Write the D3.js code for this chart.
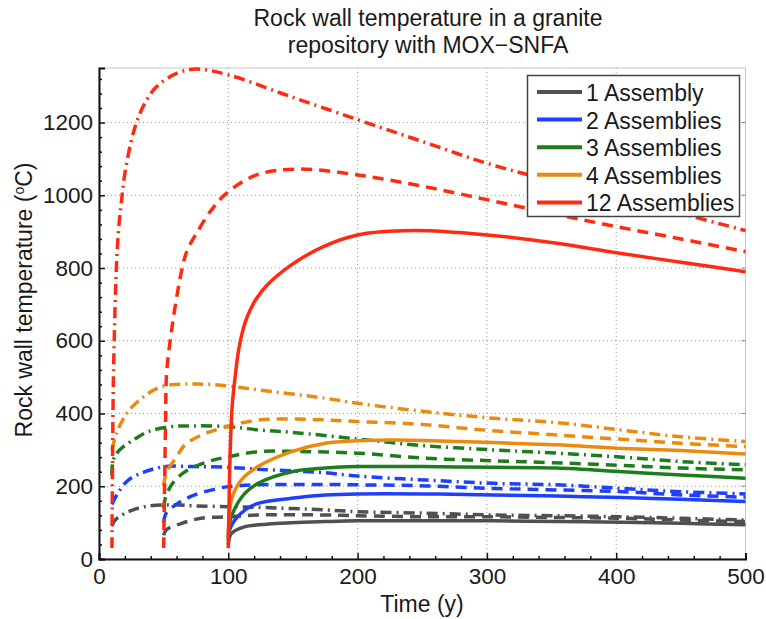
<!DOCTYPE html>
<meta charset="utf-8">
<script src="https://d3js.org/d3.v7.min.js"></script>
<style>
  body { margin: 0; background: #fff; }
  text { font-family: "Liberation Sans", Arial, sans-serif; fill: #1a1a1a; }
</style>
<div id="chart"></div>
<script>

var width = 766, height = 619;

// dados: [tempo (y), temperatura (oC)]
var gray_solid = [[100,40],[101,60],[102.6,71],[113,89],[123,94],[149,100],[175,103],[200,105],[253,105],[305,105],[354,103],[405,101],[450,98],[500,94]];
var gray_dash = [[50,65],[52,80],[64,98],[79,112],[100,116],[123,121],[175,121],[200,119],[253,116],[305,116],[354,114],[405,112],[450,107],[500,103]];
var gray_dashdot = [[10,90],[12.4,107],[22.7,130],[35.6,144],[56,149],[74,146],[100,144],[123,142],[175,135],[200,130],[253,126],[305,121],[354,119],[405,116],[450,112],[500,107]];

var blue_solid = [[100,50],[101,80],[105,107],[113,135],[123,153],[149,167],[175,176],[200,179],[253,179],[305,176],[354,173],[405,169],[450,164],[500,158]];
var blue_dash = [[50,100],[52,126],[61,153],[74,176],[92,194],[100,199],[123,204],[162,205],[200,204],[253,201],[305,194],[354,190],[405,185],[450,176],[500,170]];
var blue_dashdot = [[10,150],[13.7,176],[22.7,217],[35.6,240],[51,254],[74,254],[100,252],[123,247],[175,237],[200,228],[253,217],[305,208],[354,204],[405,194],[450,185],[500,179]];

var green_solid = [[100,60],[101,100],[105,139],[113,181],[123,208],[149,240],[175,250],[200,254],[250,254],[305,252],[354,250],[405,240],[450,231],[500,222]];
var green_dash = [[50,140],[52,176],[59,217],[69,245],[84.5,268],[100,281],[123,295],[162,295],[200,291],[253,277],[305,270],[350,265],[400,258],[450,250],[500,245]];
var green_dashdot = [[10,230],[11,272],[16,300],[26.5,327],[38,350],[56,364],[74,366],[100,364],[123,355],[150,348],[200,330],[250,312],[305,300],[354,291],[405,280],[450,268],[500,259]];

var orange_solid = [[100,60],[101,130],[103,170],[110,217],[123,254],[149,295],[175,318],[200,325],[228,327],[279,323],[305,320],[354,314],[405,304],[450,298],[500,289]];
var orange_dash = [[50,200],[52,236],[60,281],[66.5,314],[79.4,341],[95,360],[123,382],[162,384],[200,378],[250,370],[300,354],[350,342],[400,330],[450,318],[500,309]];
var orange_dashdot = [[10,300],[13.7,347],[21.4,400],[33,442],[48.5,474],[74,481],[100,476],[123,465],[175,442],[200,428],[253,405],[305,387],[354,375],[403,355],[450,336],[500,323]];

var red_solid = [[100,30],[101.5,300],[103,420],[105,492],[108,575],[111,625],[114,660],[118,692],[121,712],[129.7,752],[147.7,806],[173.5,859],[200,891],[243,903],[300,891],[350,870],[400,842],[450,816],[500,790]];
var red_dash = [[50,30],[51.5,380],[52.3,511],[57,650],[62.6,770],[66,825],[69,855],[75.5,896],[86,955],[98.7,1006],[122,1056],[153,1072],[200,1056],[250,1025],[300,988],[350,950],[400,914],[450,880],[500,845]];
var red_dashdot = [[10,30],[10.8,400],[11.5,560],[13.7,823],[15.5,920],[17.5,988],[20,1060],[25,1150],[29,1200],[35,1250],[44.6,1299],[60,1335],[75,1347],[100,1331],[147.7,1272],[200,1208],[250,1148],[300,1088],[350,1040],[400,996],[450,950],[500,903]];

var legenda = ["1 Assembly", "2 Assemblies", "3 Assemblies", "4 Assemblies", "12 Assemblies"];
var cores = ["#505050", "#1f3fff", "#1d7d1d", "#ea8a0e", "#ff2a10"];

var x_ticks = [0, 100, 200, 300, 400, 500];
var y_ticks = [0, 200, 400, 600, 800, 1000, 1200];

// estilos das linhas
var tracos = { solid: null, dash: "11,7", dashdot: "11,5,2,5" };

var series = [
  {nome: "gray",   cor: cores[0], solid: gray_solid,   dash: gray_dash,   dashdot: gray_dashdot},
  {nome: "blue",   cor: cores[1], solid: blue_solid,   dash: blue_dash,   dashdot: blue_dashdot},
  {nome: "green",  cor: cores[2], solid: green_solid,  dash: green_dash,  dashdot: green_dashdot},
  {nome: "orange", cor: cores[3], solid: orange_solid, dash: orange_dash, dashdot: orange_dashdot},
  {nome: "red",    cor: cores[4], solid: red_solid,    dash: red_dash,    dashdot: red_dashdot}
];

var m = {left: 99, right: 20.5, top: 68, bottom: 60};
var pw = width - m.left - m.right, ph = height - m.top - m.bottom;

var svg = d3.select("#chart")
  .append("svg")
  .attr("width", width)
  .attr("height", height);

var x = d3.scaleLinear().domain([0, 500]).range([m.left, m.left + pw]);
var y = d3.scaleLinear().domain([0, 1350]).range([m.top + ph, m.top]);

// grelha pontilhada
var grid = svg.append("g");
grid.selectAll(".gx")
  .data(x_ticks.slice(1))
  .join("line")
  .attr("class", "gx")
  .attr("x1", d => x(d)).attr("x2", d => x(d))
  .attr("y1", m.top).attr("y2", m.top + ph)
  .attr("stroke", "#9a9a9a").attr("stroke-width", 1).attr("stroke-dasharray", "1,3");
grid.selectAll(".gy")
  .data(y_ticks.slice(1))
  .join("line")
  .attr("class", "gy")
  .attr("x1", m.left).attr("x2", m.left + pw)
  .attr("y1", d => y(d)).attr("y2", d => y(d))
  .attr("stroke", "#9a9a9a").attr("stroke-width", 1).attr("stroke-dasharray", "1,3");

// moldura clara
svg.append("rect")
  .attr("x", m.left).attr("y", m.top)
  .attr("width", pw).attr("height", ph)
  .attr("fill", "none").attr("stroke", "#c8c8c8").attr("stroke-width", 1);

// curvas
var linha = d3.line()
  .x(d => x(d[0]))
  .y(d => y(d[1]))
  .curve(d3.curveCatmullRom.alpha(0.5));

var curvas = svg.append("g");
series.forEach(function(s) {
  ["solid", "dash", "dashdot"].forEach(function(k) {
    curvas.append("path")
      .attr("d", linha(s[k]))
      .attr("fill", "none")
      .attr("stroke", s.cor)
      .attr("stroke-width", 3.5)
      .attr("stroke-dasharray", tracos[k]);
  });
});

// eixos
var xAxis = d3.axisBottom(x).tickValues(d3.range(0, 501, 20)).tickSize(-6)
  .tickFormat(d => x_ticks.includes(d) ? d : "");
var yAxis = d3.axisLeft(y).tickValues(d3.range(0, 1341, 40)).tickSize(-6)
  .tickFormat(d => y_ticks.includes(d) ? d : "");

var gx = svg.append("g")
  .attr("transform", "translate(0," + (m.top + ph) + ")")
  .call(xAxis);
var gy = svg.append("g")
  .attr("transform", "translate(" + m.left + ",0)")
  .call(yAxis);

[gx, gy].forEach(function(g) {
  g.select(".domain").attr("stroke", "#111").attr("stroke-width", 2);
  g.selectAll(".tick line").attr("stroke", "#111").attr("stroke-width", 1.5);
  g.selectAll(".tick text").style("font-size", "22.5px").attr("fill", "#1a1a1a");
});
gx.selectAll(".tick line").attr("y2", d => x_ticks.includes(d) ? -6 : -3);
gx.selectAll(".tick text").attr("dy", "0.9em").attr("y", 5);
gy.selectAll(".tick line").attr("x2", d => y_ticks.includes(d) ? 6 : 3);
gy.selectAll(".tick text").attr("x", -6);

// marcas no lado direito
svg.append("g").selectAll("line")
  .data(y_ticks.slice(1))
  .join("line")
  .attr("x1", m.left + pw - 4).attr("x2", m.left + pw)
  .attr("y1", d => y(d)).attr("y2", d => y(d))
  .attr("stroke", "#888");

// titulo
var title = svg.append("text")
  .attr("x", 428).attr("y", 26)
  .attr("text-anchor", "middle")
  .style("font-size", "23px");
title.append("tspan").attr("x", 428).text("Rock wall temperature in a granite");
title.append("tspan").attr("x", 428).attr("dy", 27).text("repository with MOX\u2212SNFA");

// rotulos dos eixos
svg.append("text")
  .attr("x", 422).attr("y", 612)
  .attr("text-anchor", "middle")
  .style("font-size", "23px")
  .text("Time (y)");

var ylab = svg.append("text")
  .attr("transform", "translate(32,300) rotate(-90)")
  .attr("text-anchor", "middle")
  .style("font-size", "23px");
ylab.append("tspan").text("Rock wall temperature (");
ylab.append("tspan").attr("dy", -8).style("font-size", "14px").text("o");
ylab.append("tspan").attr("dy", 8).text("C)");

// legenda
var leg = svg.append("g");
leg.append("rect")
  .attr("x", 527.5).attr("y", 75.5)
  .attr("width", 212).attr("height", 141)
  .attr("fill", "#fff").attr("stroke", "#444").attr("stroke-width", 1.5);

leg.selectAll("line")
  .data(legenda)
  .join("line")
  .attr("x1", 537).attr("x2", 582)
  .attr("y1", (d, i) => 92 + i * 27.6).attr("y2", (d, i) => 92 + i * 27.6)
  .attr("stroke", (d, i) => cores[i]).attr("stroke-width", 4);

leg.selectAll("text")
  .data(legenda)
  .join("text")
  .attr("x", 586)
  .attr("y", (d, i) => 93 + i * 27.6)
  .attr("dominant-baseline", "central")
  .style("font-size", "23px")
  .text(d => d);

</script>
